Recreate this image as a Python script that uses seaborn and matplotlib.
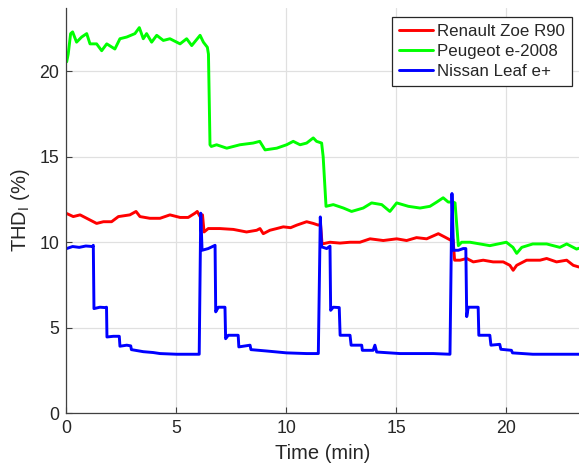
import pandas as pd
import matplotlib
matplotlib.use("Agg")
import matplotlib.pyplot as plt
import seaborn as sns

# values (time in min, THD in %)
zoe_t = [0.03, 0.33, 0.64, 0.94, 1.39, 1.7, 2.07, 2.38, 2.9, 3.18, 3.36, 3.81, 4.27, 4.72,
         5.18, 5.55, 5.86, 5.96, 6.09, 6.2, 6.27, 6.46, 6.99, 7.6, 8.2, 8.66, 8.81, 8.96,
         9.26, 9.57, 9.87, 10.2, 10.48, 10.93, 11.23, 11.46, 11.56, 11.63, 11.99, 12.44,
         12.9, 13.35, 13.81, 14.41, 15.02, 15.47, 15.92, 16.38, 16.91, 17.21, 17.5, 17.58,
         17.65, 17.9, 18.2, 18.5, 18.95, 19.4, 19.86, 20.16, 20.31, 20.47, 20.92, 21.53,
         21.83, 22.28, 22.74, 23.04, 23.3]
zoe_v = [11.68, 11.5, 11.6, 11.4, 11.1, 11.2, 11.2, 11.5, 11.6, 11.8, 11.5, 11.4, 11.4, 11.6,
         11.45, 11.45, 11.7, 11.8, 11.5, 11.6, 10.6, 10.8, 10.8, 10.75, 10.6, 10.7, 10.8, 10.5,
         10.7, 10.8, 10.9, 10.85, 11.0, 11.2, 11.1, 11.0, 11.05, 9.9, 10.0, 9.95,
         10.0, 10.0, 10.2, 10.1, 10.2, 10.1, 10.27, 10.2, 10.5, 10.3, 10.1, 10.15,
         8.95, 8.95, 9.05, 8.85, 8.95, 8.85, 8.85, 8.65, 8.36, 8.65, 8.95, 8.95,
         9.05, 8.85, 8.95, 8.65, 8.55]

peugeot_t = [0.03, 0.1, 0.21, 0.3, 0.48, 0.71, 0.94, 1.09, 1.39, 1.62, 1.85, 2.22, 2.45, 2.76,
             3.13, 3.33, 3.51, 3.66, 3.89, 4.12, 4.42, 4.72, 5.18, 5.48, 5.71, 6.09, 6.24,
             6.42, 6.47, 6.54, 6.6, 6.84, 7.3, 7.9, 8.5, 8.8, 9.04, 9.57, 10.02, 10.32, 10.63,
             10.93, 11.23, 11.38, 11.61, 11.68, 11.81, 12.14, 12.6, 12.97, 13.5, 13.88, 14.34,
             14.71, 15.02, 15.55, 16.08, 16.53, 16.84, 17.13, 17.36, 17.59, 17.67, 17.82,
             17.97, 18.35, 18.8, 19.25, 20.0, 20.3, 20.47, 20.7, 21.2, 21.83, 22.43, 22.74,
             23.19, 23.3]
peugeot_v = [20.55, 21.0, 22.2, 22.3, 21.7, 22.0, 22.2, 21.6, 21.6, 21.2, 21.6, 21.3, 21.9, 22.0,
             22.2, 22.55, 21.9, 22.2, 21.7, 22.1, 21.8, 21.9, 21.6, 21.9, 21.5, 22.1, 21.7,
             21.4, 21.0, 15.7, 15.6, 15.7, 15.5, 15.7, 15.8, 15.9, 15.4, 15.5, 15.7, 15.9, 15.7,
             15.8, 16.1, 15.9, 15.8, 15.0, 12.1, 12.2, 12.0, 11.8, 12.0, 12.3, 12.2,
             11.8, 12.3, 12.1, 12.0, 12.1, 12.35, 12.6, 12.35, 12.35, 12.3, 9.8,
             10.0, 10.0, 9.9, 9.8, 10.0, 9.7, 9.35, 9.7, 9.9, 9.9, 9.7, 9.9,
             9.6, 9.65]

leaf_t = [0.03, 0.3, 0.6, 0.9, 1.2, 1.24, 1.27, 1.54, 1.77, 1.84, 1.86, 2.15, 2.42, 2.45,
          2.76, 2.94, 2.97, 3.51, 3.96, 4.27, 5.03, 6.05, 6.12, 6.18, 6.46, 6.77, 6.8, 6.92,
          7.22, 7.25, 7.37, 7.82, 7.85, 8.36, 8.4, 9.11, 10.02, 10.93, 11.46, 11.55, 11.61,
          11.84, 11.99, 12.02, 12.14, 12.41, 12.45, 12.9, 12.95, 13.43, 13.46, 13.95, 14.03,
          14.11, 15.17, 16.68, 17.44, 17.53, 17.6, 17.82, 18.04, 18.16, 18.2, 18.27, 18.72,
          18.75, 19.25, 19.3, 19.7, 19.75, 20.23, 20.28, 21.2, 22.43, 23.3]
leaf_v = [9.63, 9.75, 9.7, 9.78, 9.75, 9.82, 6.12, 6.2, 6.18, 6.2, 4.46, 4.5, 4.5, 3.92,
          3.98, 3.94, 3.72, 3.6, 3.55, 3.49, 3.45, 3.45, 11.7, 9.53, 9.63, 9.82, 5.93, 6.2,
          6.2, 4.36, 4.56, 4.56, 3.88, 3.98, 3.72, 3.64, 3.53, 3.49, 3.49, 11.48, 9.73,
          9.63, 9.77, 6.02, 6.2, 6.18, 4.56, 4.56, 3.98, 3.98, 3.68, 3.68, 3.98,
          3.58, 3.49, 3.49, 3.45, 12.85, 9.53, 9.53, 9.63, 9.63, 5.65, 6.2, 6.2,
          4.56, 4.56, 3.98, 4.03, 3.74, 3.68, 3.53, 3.45, 3.45, 3.45]

names = ["Renault Zoe R90", "Peugeot e-2008", "Nissan Leaf e+"]
df = pd.concat([
    pd.DataFrame({"t": zoe_t, "thd": zoe_v, "car": names[0]}),
    pd.DataFrame({"t": peugeot_t, "thd": peugeot_v, "car": names[1]}),
    pd.DataFrame({"t": leaf_t, "thd": leaf_v, "car": names[2]}),
])

sns.set_style("whitegrid")
plt.rcParams["font.family"] = ["Liberation Sans", "DejaVu Sans"]
plt.rcParams["mathtext.default"] = "regular"

fig = plt.figure(figsize=(5.79, 4.68), dpi=100)
ax = fig.add_axes([0.114, 0.117, 0.886, 0.866])

sns.lineplot(data=df, x="t", y="thd", hue="car", hue_order=names,
             palette=["#ff0000", "#00ff00", "#0000ff"], estimator=None, sort=False,
             linewidth=2.1, ax=ax)

ax.set_xlim(0, 23.3)
ax.set_ylim(0, 23.7)
ax.set_xticks([0, 5, 10, 15, 20])
ax.set_yticks([0, 5, 10, 15, 20])
ax.grid(True, color="#e0e0e0", linewidth=0.9)
for side in ["top", "right"]:
    ax.spines[side].set_visible(False)
for side in ["left", "bottom"]:
    ax.spines[side].set_color("#404040")
    ax.spines[side].set_linewidth(0.9)
ax.tick_params(direction="in", length=4, width=0.8, color="#404040",
               labelsize=12.8, labelcolor="#262626", left=True, bottom=True, pad=5)

ax.set_xlabel("Time (min)", fontsize=14.5, color="#262626", labelpad=5)
ax.set_ylabel("THD$_I$ (%)", fontsize=14.5, color="#262626", labelpad=5)

leg = ax.legend(loc="upper right", bbox_to_anchor=(0.9864, 0.978), borderaxespad=0,
                fontsize=12.2, frameon=True, fancybox=False, framealpha=1,
                edgecolor="#262626", handlelength=2.0, handletextpad=0.25,
                labelspacing=0.3, borderpad=0.4)
leg.get_frame().set_linewidth(0.9)
for line in leg.get_lines():
    line.set_linewidth(2.1)

fig.savefig("out.png", dpi=100)
